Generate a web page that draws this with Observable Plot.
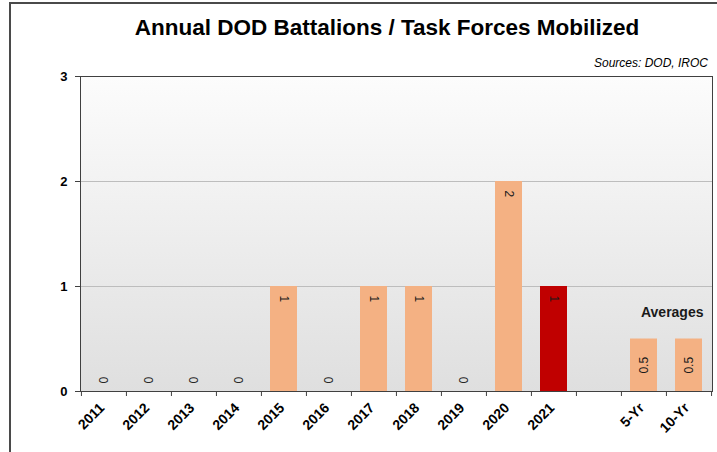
<!DOCTYPE html>
<html>
<head>
<meta charset="utf-8">
<script src="https://cdn.jsdelivr.net/npm/d3@7"></script>
<script src="https://cdn.jsdelivr.net/npm/@observablehq/plot@0.6"></script>
<style>
  html, body { margin: 0; padding: 0; background: #fff; overflow: hidden; }
  #wrap { position: relative; width: 717px; height: 452px; font-family: "Liberation Sans", Arial, sans-serif; }
  #border { position: absolute; left: 9px; top: 2px; width: 720px; height: 460px; border-top: 2px solid #4a4a4a; border-left: 2px solid #4a4a4a; box-sizing: border-box; }
  #title { position: absolute; left: 57px; width: 660px; top: 17px; text-align: center; font-size: 22.5px; line-height: 1; font-weight: bold; color: #000; }
  #source { position: absolute; right: 9px; top: 57px; font-size: 12px; line-height: 1; font-style: italic; color: #000; }
  #chart { position: absolute; left: 0; top: 0; }
  #chart svg [aria-label="y-axis tick label"], #chart svg [aria-label="x-axis tick label"] { font-weight: bold; }
</style>
</head>
<body>
<div id="wrap">
  <div id="border"></div>
  <div id="chart"></div>
  <div id="title">Annual DOD Battalions / Task Forces Mobilized</div>
  <div id="source">Sources: DOD, IROC</div>
</div>
<script>
// ---- data ----
const years = ["2011", "2012", "2013", "2014", "2015", "2016", "2017", "2018", "2019", "2020", "2021"];
const mobilized = [0, 0, 0, 0, 1, 0, 1, 1, 0, 2, 1];
const currentYear = "2021";
const averageLabels = ["5-Yr", "10-Yr"];
const averageValues = [0.5, 0.5];
const spacer = " ";
const yTicks = [0, 1, 2, 3];
const annotation = "Averages";

// ---- build table ----
const yearRows = years.map((c, i) => ({cat: c, value: mobilized[i], kind: c === currentYear ? "current" : "year"}));
const avgRows = averageLabels.map((c, i) => ({cat: c, value: averageValues[i], kind: "avg"}));
const rows = [...yearRows, ...avgRows];
const domain = [...years, spacer, ...averageLabels];

const W = 717, H = 452;
const mL = 80, mR = 5, mT = 76, mB = 61;
const step = (W - mL - mR) / domain.length;

const font = "'Liberation Sans', Arial, sans-serif";

const defs = () => {
  const d = d3.create("svg:defs");
  const g = d.append("linearGradient").attr("id", "bgGrad").attr("x1", 0).attr("y1", 0).attr("x2", 0).attr("y2", 1);
  g.append("stop").attr("offset", "0%").attr("stop-color", "#fcfcfc");
  g.append("stop").attr("offset", "100%").attr("stop-color", "#dfdfdf");
  return d.node();
};

const chart = Plot.plot({
  width: W,
  height: H,
  marginLeft: mL,
  marginRight: mR,
  marginTop: mT,
  marginBottom: mB,
  style: {fontFamily: font, fontSize: "12px", color: "#000", background: "transparent", overflow: "visible"},
  x: {domain, paddingInner: 0.4, paddingOuter: 0.2, label: null},
  y: {domain: [0, 3], label: null},
  marks: [
    defs,
    Plot.frame({fill: "url(#bgGrad)"}),
    Plot.gridY({ticks: [1, 2], stroke: "#bdbdbd", strokeOpacity: 1, strokeWidth: 1}),
    Plot.barY(rows.filter(d => d.value > 0 && d.kind !== "current"), {x: "cat", y: "value", fill: "#F4B183"}),
    Plot.barY(rows.filter(d => d.kind === "current"), {x: "cat", y: "value", fill: "#C00000"}),
    // zero labels
    Plot.text(rows.filter(d => d.value === 0), {x: "cat", y: "value", text: d => String(d.value), rotate: -90, textAnchor: "start", dy: -8, fontSize: 12, fill: "#262626"}),
    // top labels for yearly bars
    Plot.text(rows.filter(d => d.value > 0 && d.kind !== "avg"), {x: "cat", y: "value", text: d => String(d.value), rotate: 90, textAnchor: "start", dy: 9, fontSize: 12, fill: "#1a1a1a"}),
    // average labels
    Plot.text(avgRows, {x: "cat", y: d => d.value / 2, text: d => String(d.value), rotate: -90, textAnchor: "middle", fontSize: 12, fill: "#1a1a1a"}),
    Plot.text([annotation], {frameAnchor: "bottom-right", text: d => d, textAnchor: "end", lineAnchor: "middle", dx: -9, dy: -79, fontSize: 14, fontWeight: "bold", fill: "#1a1a1a"}),
    Plot.frame({stroke: "#404040", strokeWidth: 1}),
    Plot.axisY({ticks: yTicks, tickSize: 5, tickPadding: 8, tickFormat: d3.format("d"), fontSize: 13, fontWeight: "bold", stroke: "#404040"}),
    Plot.axisX({tickSize: 0, tickRotate: -45, tickPadding: 14, dx: -2, fontSize: 14, fontWeight: "bold"}),
    Plot.axisX({text: null, tickSize: 5, dx: -step / 2, stroke: "#404040"}),
    Plot.axisX({ticks: [averageLabels[averageLabels.length - 1]], text: null, tickSize: 5, dx: step / 2, stroke: "#404040"})
  ]
});
document.getElementById("chart").appendChild(chart);
</script>
</body>
</html>
